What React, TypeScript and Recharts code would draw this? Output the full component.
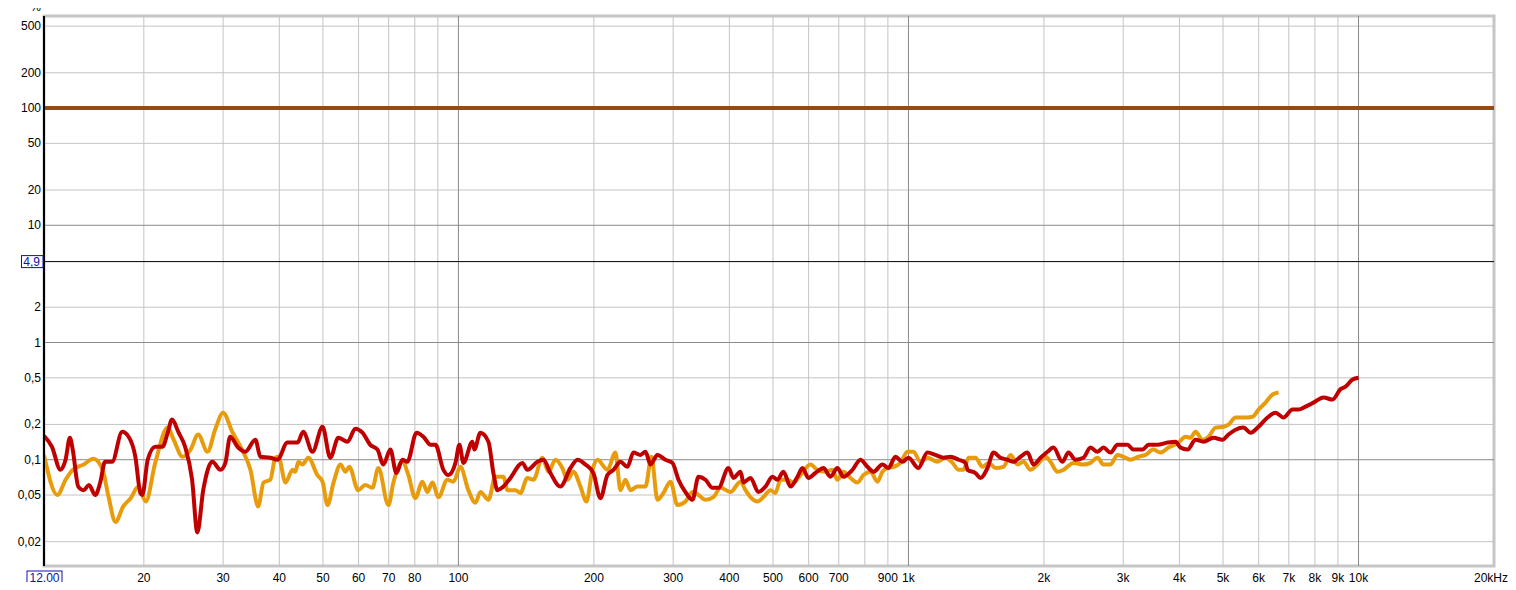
import React from 'react';
import { LineChart, Line, XAxis, YAxis, ReferenceLine, ReferenceArea } from 'recharts';

// ---- data (frequency in Hz, level in %) ----
const redFreq = [
  12.0, 12.5, 13.05, 13.4, 13.7, 13.9, 14.3, 14.7, 15.1, 15.6,
  16.0, 16.4, 17.0, 17.9, 18.5, 19.15, 19.65, 19.85, 20.4, 21.2,
  22.0, 22.6, 23.1, 23.9, 24.7, 25.6, 26.3, 27.1, 28.4, 29.6,
  30.35, 31.1, 32.4, 33.6, 35.4, 36.3, 38.2, 39.6, 41.7, 43.9,
  45.2, 47.4, 49.9, 51.9, 54.1, 56.7, 59.0, 61.2, 63.7, 66.1,
  68.1, 70.6, 72.8, 75.1, 77.0, 80.7, 83.6, 86.7, 88.9, 92.6,
  95.0, 98.5, 100.5, 102.6, 107.4, 108.5, 111.9, 116.6, 119.6, 122.1,
  125.9, 130.5, 138.7, 142.3, 149.8, 154.5, 160.1, 168.5, 177.4, 183.9,
  191.5, 199.5, 206.8, 214.3, 221.1, 229.1, 237.4, 244.8, 253.8, 260.4,
  267.2, 276.8, 288.4, 298.9, 308.3, 319.5, 331.1, 341.5, 353.9, 366.8,
  378.3, 398.1, 408.4, 423.4, 429.9, 445.6, 464.2, 481.1, 498.6, 511.5,
  527.5, 546.8, 566.7, 581.4, 599.5, 621.3, 647.2, 670.8, 695.2, 717,
  750.8, 782.1, 810.8, 836, 875.4, 902.7, 935.5, 969.8, 1000, 1052,
  1102, 1148, 1196, 1240, 1292, 1339, 1353, 1409, 1445, 1498,
  1545, 1601, 1660, 1712, 1774, 1838, 1896, 1965, 2037, 2100,
  2198, 2267, 2350, 2448, 2538, 2630, 2712, 2811, 2914, 3066,
  3162, 3311, 3415, 3575, 3763, 3920, 4022, 4169, 4343, 4524,
  4762, 4986, 5141, 5329, 5551, 5754, 5995, 6277, 6540, 6813,
  7134, 7356, 7624, 7943, 8360, 8754, 9120, 9356, 9698, 10000,
];
const redPct = [
  0.16, 0.129, 0.082, 0.1, 0.154, 0.122, 0.059, 0.055, 0.061, 0.05,
  0.064, 0.096, 0.096, 0.173, 0.157, 0.106, 0.052, 0.05, 0.1, 0.129,
  0.129, 0.17, 0.22, 0.17, 0.129, 0.0675, 0.024, 0.055, 0.096, 0.082,
  0.094, 0.157, 0.127, 0.117, 0.148, 0.106, 0.104, 0.1, 0.14, 0.14,
  0.173, 0.117, 0.191, 0.104, 0.154, 0.1425, 0.184, 0.17, 0.134, 0.122,
  0.091, 0.122, 0.077, 0.1, 0.096, 0.17, 0.157, 0.134, 0.134, 0.082,
  0.074, 0.094, 0.134, 0.094, 0.1425, 0.122, 0.17, 0.1425, 0.077, 0.055,
  0.059, 0.07, 0.094, 0.082, 0.096, 0.1, 0.077, 0.059, 0.085, 0.1,
  0.091, 0.077, 0.047, 0.074, 0.082, 0.096, 0.087, 0.115, 0.11, 0.117,
  0.091, 0.11, 0.1, 0.094, 0.0675, 0.053, 0.0455, 0.0716, 0.0675, 0.0576,
  0.0576, 0.085, 0.07, 0.079, 0.064, 0.07, 0.053, 0.059, 0.0716, 0.0675,
  0.079, 0.059, 0.0716, 0.085, 0.07, 0.077, 0.085, 0.0716, 0.085, 0.0716,
  0.082, 0.1, 0.087, 0.079, 0.091, 0.085, 0.106, 0.096, 0.104, 0.085,
  0.115, 0.11, 0.104, 0.106, 0.1, 0.094, 0.082, 0.077, 0.07, 0.085,
  0.115, 0.104, 0.1, 0.096, 0.106, 0.115, 0.091, 0.104, 0.117, 0.127,
  0.096, 0.115, 0.1, 0.104, 0.127, 0.117, 0.127, 0.115, 0.134, 0.134,
  0.122, 0.122, 0.134, 0.134, 0.14, 0.1425, 0.127, 0.122, 0.148, 0.1425,
  0.154, 0.148, 0.164, 0.18, 0.188, 0.17, 0.191, 0.229, 0.252, 0.229,
  0.268, 0.268, 0.284, 0.307, 0.34, 0.326, 0.4, 0.42, 0.483, 0.5,
];

const orangeFreq = [
  12.0, 12.85, 13.4, 13.9, 14.7, 15.45, 16.2, 16.7, 17.3, 18.0,
  18.7, 19.45, 20.2, 21.2, 22.6, 23.3, 24.4, 25.4, 26.4, 27.7,
  28.8, 30.0, 31.5, 32.8, 34.5, 35.9, 36.9, 38.2, 39.2, 39.8,
  41.3, 42.8, 43.4, 44.1, 45.0, 46.4, 48.6, 49.9, 51.2, 52.8,
  54.7, 56.1, 57.2, 59.9, 62.1, 64.4, 66.4, 69.9, 71.7, 75.1,
  77.4, 80.2, 83.2, 85.3, 87.5, 90.3, 94.5, 97.5, 101, 105.2,
  109.1, 111.9, 116.6, 120.8, 125.9, 128.5, 133.9, 137.3, 142.3, 146.8,
  153.7, 158.5, 164.3, 170.2, 174.6, 180.1, 186.7, 192.5, 198.5, 203.7,
  214.3, 223.3, 229.1, 235.0, 241.1, 249.9, 260.4, 268.5, 276.8, 285.5,
  295.9, 306.7, 319.5, 331.1, 341.5, 353.9, 368.7, 382.2, 402.2, 423.4,
  434.4, 445.6, 461.9, 476.2, 493.5, 506.3, 519.4, 538.4, 555.2, 575.4,
  605.6, 627.6, 653.9, 677.6, 695.2, 717, 743.1, 770.2, 794.3, 823.3,
  853.3, 875.4, 898.1, 926, 959.8, 995, 1026, 1063, 1102, 1160,
  1208, 1253, 1292, 1325, 1360, 1409, 1460, 1506, 1561, 1626,
  1686, 1747, 1801, 1867, 1935, 2016, 2068, 2143, 2210, 2326,
  2448, 2538, 2630, 2712, 2811, 2914, 3004, 3114, 3244, 3362,
  3503, 3631, 3782, 3981, 4126, 4233, 4343, 4501, 4642, 4811,
  5012, 5141, 5329, 5551, 5813, 5995, 6213, 6441, 6641,
];
const orangePct = [
  0.11, 0.05, 0.0675, 0.082, 0.091, 0.102, 0.082, 0.048, 0.0295, 0.04,
  0.047, 0.059, 0.044, 0.094, 0.188, 0.148, 0.106, 0.122, 0.164, 0.117,
  0.18, 0.252, 0.17, 0.129, 0.082, 0.04, 0.064, 0.0675, 0.104, 0.106,
  0.064, 0.082, 0.079, 0.096, 0.091, 0.104, 0.074, 0.065, 0.041, 0.064,
  0.091, 0.079, 0.087, 0.055, 0.061, 0.0576, 0.085, 0.041, 0.064, 0.096,
  0.074, 0.047, 0.065, 0.053, 0.064, 0.048, 0.0675, 0.065, 0.087, 0.055,
  0.043, 0.053, 0.0455, 0.0716, 0.0716, 0.055, 0.055, 0.052, 0.07, 0.0675,
  0.104, 0.079, 0.1, 0.085, 0.0675, 0.079, 0.059, 0.044, 0.082, 0.1,
  0.082, 0.115, 0.055, 0.0675, 0.055, 0.059, 0.059, 0.106, 0.0455, 0.052,
  0.065, 0.041, 0.044, 0.053, 0.05, 0.0455, 0.048, 0.0576, 0.053, 0.065,
  0.055, 0.048, 0.044, 0.048, 0.055, 0.052, 0.0675, 0.0675, 0.064, 0.074,
  0.091, 0.082, 0.079, 0.082, 0.0675, 0.079, 0.07, 0.064, 0.074, 0.079,
  0.065, 0.079, 0.085, 0.087, 0.094, 0.117, 0.117, 0.096, 0.104, 0.096,
  0.104, 0.094, 0.082, 0.082, 0.104, 0.104, 0.087, 0.094, 0.085, 0.087,
  0.11, 0.091, 0.096, 0.082, 0.091, 0.106, 0.096, 0.079, 0.082, 0.094,
  0.091, 0.094, 0.104, 0.091, 0.091, 0.11, 0.106, 0.1, 0.106, 0.11,
  0.122, 0.115, 0.127, 0.14, 0.157, 0.154, 0.173, 0.148, 0.157, 0.188,
  0.191, 0.199, 0.229, 0.229, 0.233, 0.268, 0.307, 0.36, 0.374,
];

const referenceLevel = 100;
const markerLevel = 4.9;

const xTicks = [12, 20, 30, 40, 50, 60, 70, 80, 100, 200, 300, 400, 500, 600, 700, 900,
  1000, 2000, 3000, 4000, 5000, 6000, 7000, 8000, 9000, 10000, 20000];
const xTickLabels = ['12,00', '20', '30', '40', '50', '60', '70', '80', '100', '200', '300', '400',
  '500', '600', '700', '900', '1k', '2k', '3k', '4k', '5k', '6k', '7k', '8k', '9k', '10k', '20kHz'];
const xGridMinor = [20, 30, 40, 50, 60, 70, 80, 90, 200, 300, 400, 500, 600, 700, 800, 900,
  2000, 3000, 4000, 5000, 6000, 7000, 8000, 9000];
const xGridMajor = [100, 1000, 10000];

const yTicks = [0.02, 0.05, 0.1, 0.2, 0.5, 1, 2, 4.9, 10, 20, 50, 100, 200, 500];
const yTickLabels = ['0,02', '0,05', '0,1', '0,2', '0,5', '1', '2', '4,9', '10', '20', '50', '100', '200', '500'];
const yGridMinor = [0.02, 0.05, 0.2, 0.5, 2, 20, 50, 200, 500];
const yGridMajor = [0.1, 1, 10];

const xDomain = [12, 20000];
const yDomain = [0.0124, 610];

const redData = redFreq.map((f, i) => ({ f, v: redPct[i] }));
const orangeData = orangeFreq.map((f, i) => ({ f, v: orangePct[i] }));

const BLUE = '#1010a8';
const FONT = '"Liberation Sans", Arial, sans-serif';

const XTick = (props: any) => {
  const { x, y, payload } = props;
  const i = xTicks.indexOf(payload.value);
  const label = xTickLabels[i];
  if (i === 0) {
    return (
      <g>
        <rect x={x - 17} y={y + 5} width={35} height={13} fill="#fff" stroke={BLUE} strokeWidth={1} />
        <text x={x + 0.5} y={y + 15.5} textAnchor="middle" fill={BLUE} fontSize={12} fontFamily={FONT}>{label}</text>
      </g>
    );
  }
  if (i === xTicks.length - 1) {
    return (
      <text x={x + 14} y={y + 16} textAnchor="end" fill="#000" fontSize={12} fontFamily={FONT}>{label}</text>
    );
  }
  return (
    <text x={x} y={y + 16} textAnchor="middle" fill="#000" fontSize={12} fontFamily={FONT}>{label}</text>
  );
};

const YTick = (props: any) => {
  const { x, y, payload } = props;
  const i = yTicks.indexOf(payload.value);
  const label = yTickLabels[i];
  if (payload.value === markerLevel) {
    return (
      <g>
        <rect x={13.5} y={y - 6} width={21.5} height={12} fill="#fff" stroke={BLUE} strokeWidth={1} />
        <text x={x - 1} y={y + 4} textAnchor="end" fill={BLUE} fontSize={12} fontFamily={FONT}>{label}</text>
      </g>
    );
  }
  return (
    <text x={x} y={y + 4} textAnchor="end" fill="#000" fontSize={12} fontFamily={FONT}>{label}</text>
  );
};

const PercentLabel = (props: any) => {
  const vb = props.viewBox || { x: 0, y: 16, width: 36 };
  return (
    <text x={vb.x + vb.width - 3} y={vb.y - 5} textAnchor="end" fill="#000" fontSize={12} fontFamily={FONT}>%</text>
  );
};

export default function App() {
  return (
    <div style={{ width: 1508, height: 590, marginTop: -8, marginBottom: -8, fontFamily: FONT, background: '#fff' }}>
      <LineChart width={1508} height={590} margin={{ top: 16, right: 22, bottom: 0, left: 0 }}>
        <XAxis
          dataKey="f"
          type="number"
          scale="log"
          domain={xDomain}
          allowDataOverflow
          ticks={xTicks}
          interval={0}
          tick={<XTick />}
          tickLine={false}
          axisLine={false}
          tickSize={0}
          tickMargin={0}
          height={24}
        />
        <YAxis
          type="number"
          scale="log"
          domain={yDomain}
          allowDataOverflow
          ticks={yTicks}
          interval={0}
          tick={<YTick />}
          tickLine={false}
          tickSize={0}
          tickMargin={3}
          width={36}
          axisLine={{ stroke: '#000', strokeWidth: 2 }}
          label={<PercentLabel />}
        />
        <ReferenceArea x1={xDomain[0]} x2={xDomain[1]} y1={yDomain[0]} y2={yDomain[1]}
          fill="none" stroke="#c6c6c6" strokeWidth={3} ifOverflow="visible" />
        {xGridMinor.map((v) => (
          <ReferenceLine key={'xm' + v} x={v} stroke="#c4c4c4" strokeWidth={1} />
        ))}
        {yGridMinor.map((v) => (
          <ReferenceLine key={'ym' + v} y={v} stroke="#c4c4c4" strokeWidth={1} />
        ))}
        {xGridMajor.map((v) => (
          <ReferenceLine key={'xM' + v} x={v} stroke="#8a8a8a" strokeWidth={1} />
        ))}
        {yGridMajor.map((v) => (
          <ReferenceLine key={'yM' + v} y={v} stroke="#8a8a8a" strokeWidth={1} />
        ))}
        <ReferenceLine y={markerLevel} stroke="#000" strokeWidth={1} />
        <ReferenceLine y={referenceLevel} stroke="#964b14" strokeWidth={4} />
        <Line data={orangeData} dataKey="v" type="monotone" stroke="#e89c0c" strokeWidth={4}
          dot={false} activeDot={false} isAnimationActive={false} />
        <Line data={redData} dataKey="v" type="monotone" stroke="#c00000" strokeWidth={4}
          dot={false} activeDot={false} isAnimationActive={false} />
      </LineChart>
    </div>
  );
}
